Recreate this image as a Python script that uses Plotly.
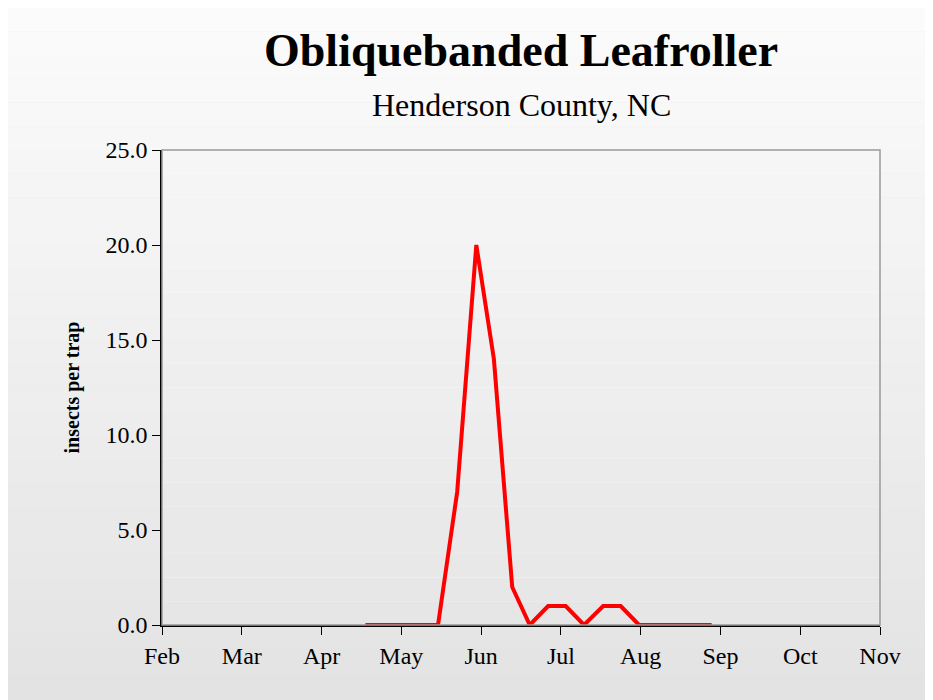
import plotly.graph_objects as go

months = ["Feb","Mar","Apr","May","Jun","Jul","Aug","Sep","Oct","Nov"]
# sample positions in month units (Feb=0)
week_pos = [2.55,2.78,3.0,3.24,3.46,3.7,3.94,4.16,4.39,4.61,4.84,5.06,5.29,5.53,5.75,5.98,6.2,6.43,6.66,6.89]
counts   = [0,0,0,0,0,7,20,14,2,0,1,1,0,1,1,0,0,0,0,0]

fig = go.Figure()
fig.add_trace(go.Scatter(x=week_pos, y=counts, mode="lines",
                         line=dict(color="#ff0000", width=4)))

shapes = []
n = 40
for i in range(n):
    g = int(255 - (255-222)*i/(n-1))
    shapes.append(dict(type="rect", xref="paper", yref="paper", layer="below",
                       x0=-1, x1=2, y0=1.5-(i+1)*2.0/n, y1=1.5-i*2.0/n,
                       fillcolor=f"rgb({g},{g},{g})", line=dict(width=0)))
shapes.append(dict(type="rect", xref="paper", yref="paper", x0=0, x1=1, y0=0, y1=1,
                   line=dict(color="#999999", width=1.5), layer="above"))
fig.update_layout(
    width=933, height=700, shapes=shapes,
    paper_bgcolor="#e8e8e8", plot_bgcolor="white",
    margin=dict(l=154, r=61, t=142, b=83),
    showlegend=False,
    font=dict(family="Liberation Serif, serif", color="black", size=24),
    annotations=[
        dict(text="<b>Obliquebanded Leafroller</b>", xref="paper", yref="paper",
             x=0.5, y=1.21, xanchor="center", yanchor="middle", showarrow=False,
             font=dict(size=46)),
        dict(text="Henderson County, NC", xref="paper", yref="paper",
             x=0.5, y=1.095, xanchor="center", yanchor="middle", showarrow=False,
             font=dict(size=32)),
    ],
    xaxis=dict(range=[0,9], tickvals=list(range(10)), ticktext=months,
               ticks="outside", ticklen=8, tickcolor="black", showgrid=False,
               showline=True, linecolor="black", linewidth=1.5, zeroline=False),
    yaxis=dict(range=[0,25], tickvals=[0,5,10,15,20,25], tickformat=".1f",
               ticks="outside", ticklen=8, tickcolor="black", showgrid=False,
               showline=True, linecolor="black", linewidth=1.5, zeroline=False,
               title=dict(text="<b>insects per trap</b>", font=dict(size=20), standoff=20)),
)
fig.write_html("out.html")
